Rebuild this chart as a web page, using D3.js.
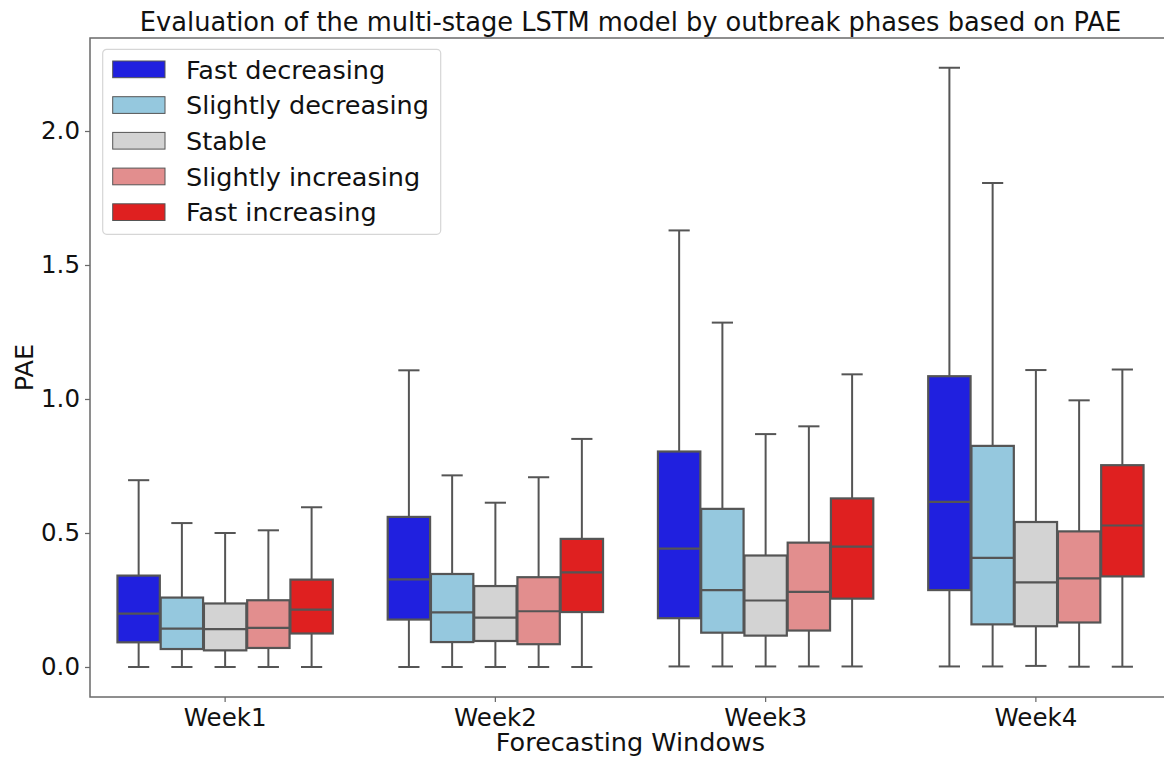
<!DOCTYPE html>
<html>
<head>
<meta charset="utf-8">
<script src="https://cdn.jsdelivr.net/npm/d3@7"></script>
<style>
  html, body { margin: 0; padding: 0; background: #fff; }
  svg { display: block; font-family: "DejaVu Sans", sans-serif; }
</style>
</head>
<body>
<svg id="chart" width="1164" height="757"></svg>
<script>
// ---- Data ----
const categories = ["Week1", "Week2", "Week3", "Week4"];
const phases = ["Fast decreasing", "Slightly decreasing", "Stable", "Slightly increasing", "Fast increasing"];
const yTicks = [0.0, 0.5, 1.0, 1.5, 2.0];

// rows = weeks, columns = phases
const whiskerLow = [
  [0, 0, 0, 0, 0],
  [0, 0, 0, 0, 0],
  [0.002, 0.002, 0.002, 0.002, 0.002],
  [0.002, 0.002, 0.004, 0.001, 0.001]
];
const q1 = [
  [0.092, 0.067, 0.062, 0.071, 0.125],
  [0.177, 0.093, 0.097, 0.085, 0.205],
  [0.182, 0.128, 0.117, 0.136, 0.255],
  [0.287, 0.159, 0.152, 0.166, 0.338]
];
const median = [
  [0.199, 0.143, 0.141, 0.146, 0.214],
  [0.327, 0.204, 0.184, 0.208, 0.353],
  [0.442, 0.287, 0.248, 0.280, 0.449],
  [0.616, 0.407, 0.316, 0.331, 0.528]
];
const q3 = [
  [0.341, 0.259, 0.237, 0.249, 0.326],
  [0.560, 0.347, 0.302, 0.335, 0.478],
  [0.804, 0.590, 0.416, 0.464, 0.629],
  [1.085, 0.825, 0.541, 0.506, 0.753]
];
const whiskerHigh = [
  [0.697, 0.537, 0.500, 0.510, 0.596],
  [1.107, 0.715, 0.613, 0.708, 0.851],
  [1.629, 1.285, 0.869, 0.898, 1.092],
  [2.236, 1.806, 1.108, 0.995, 1.110]
];

// ---- Styles ----
const phaseColors = ["#2020df", "#95c8de", "#d3d3d3", "#e28e8e", "#df2020"];
const lineColor = "#555555";
const spineColor = "#6a6a6a";
const textColor = "#111111";
const tickFont = 24.5;
const labelFont = 25.5;

const svg = d3.select("#chart");
const plot = { left: 90, right: 1171, top: 38, bottom: 697 };

const x = d3.scaleBand().domain(categories).range([plot.left, plot.right]).padding(0);
const groupWidth = x.bandwidth() * 0.8;
const xSub = d3.scaleBand().domain(phases).range([0, groupWidth]).padding(0);
const boxW = xSub.bandwidth() * 0.98;
const y = d3.scaleLinear().domain([-0.112, 2.347]).range([plot.bottom, plot.top]);
const color = d3.scaleOrdinal().domain(phases).range(phaseColors);

// Build records
const records = [];
categories.forEach((c, i) => {
  phases.forEach((p, j) => {
    records.push({
      cat: c, phase: p,
      lo: whiskerLow[i][j], q1: q1[i][j], med: median[i][j], q3: q3[i][j], hi: whiskerHigh[i][j]
    });
  });
});

const cx = d => x(d.cat) + (x.bandwidth() - groupWidth) / 2 + xSub(d.phase) + xSub.bandwidth() / 2;

const boxes = svg.append("g").attr("class", "boxes");
const g = boxes.selectAll("g.box").data(records).join("g").attr("class", "box");

// whiskers
g.append("line")
  .attr("x1", cx).attr("x2", cx)
  .attr("y1", d => y(d.q3)).attr("y2", d => y(d.hi))
  .attr("stroke", lineColor).attr("stroke-width", 2);
g.append("line")
  .attr("x1", cx).attr("x2", cx)
  .attr("y1", d => y(d.q1)).attr("y2", d => y(d.lo))
  .attr("stroke", lineColor).attr("stroke-width", 2);
// caps
g.append("line")
  .attr("x1", d => cx(d) - boxW / 4).attr("x2", d => cx(d) + boxW / 4)
  .attr("y1", d => y(d.hi)).attr("y2", d => y(d.hi))
  .attr("stroke", lineColor).attr("stroke-width", 2);
g.append("line")
  .attr("x1", d => cx(d) - boxW / 4).attr("x2", d => cx(d) + boxW / 4)
  .attr("y1", d => y(d.lo)).attr("y2", d => y(d.lo))
  .attr("stroke", lineColor).attr("stroke-width", 2);
// box
g.append("rect")
  .attr("x", d => cx(d) - boxW / 2)
  .attr("width", boxW)
  .attr("y", d => y(d.q3))
  .attr("height", d => y(d.q1) - y(d.q3))
  .attr("fill", d => color(d.phase))
  .attr("stroke", lineColor).attr("stroke-width", 2.2);
// median
g.append("line")
  .attr("x1", d => cx(d) - boxW / 2).attr("x2", d => cx(d) + boxW / 2)
  .attr("y1", d => y(d.med)).attr("y2", d => y(d.med))
  .attr("stroke", lineColor).attr("stroke-width", 2.2);

// ---- Axes ----
const yAxis = svg.append("g")
  .attr("transform", `translate(${plot.left},0)`)
  .call(d3.axisLeft(y).tickValues(yTicks).tickFormat(d3.format(".1f")).tickSize(5).tickPadding(5));
const xAxis = svg.append("g")
  .attr("transform", `translate(0,${plot.bottom})`)
  .call(d3.axisBottom(x).tickSize(5).tickPadding(7));
[yAxis, xAxis].forEach(a => {
  a.select(".domain").remove();
  a.selectAll(".tick line").attr("stroke", spineColor).attr("stroke-width", 1.25);
  a.selectAll(".tick text").attr("fill", textColor).style("font-size", tickFont + "px")
    .style("font-family", "'DejaVu Sans', sans-serif");
});

// spines
svg.append("rect")
  .attr("x", plot.left).attr("y", plot.top)
  .attr("width", plot.right - plot.left).attr("height", plot.bottom - plot.top)
  .attr("fill", "none").attr("stroke", spineColor).attr("stroke-width", 1.5);

// ---- Labels ----
svg.append("text")
  .attr("x", (plot.left + plot.right) / 2).attr("y", 31)
  .attr("text-anchor", "middle").attr("fill", textColor)
  .style("font-size", "25.7px")
  .text("Evaluation of the multi-stage LSTM model by outbreak phases based on PAE");

svg.append("text")
  .attr("x", (plot.left + plot.right) / 2).attr("y", 751)
  .attr("text-anchor", "middle").attr("fill", textColor)
  .style("font-size", labelFont + "px")
  .text("Forecasting Windows");

svg.append("text")
  .attr("transform", `translate(32.5,${(plot.top + plot.bottom) / 2}) rotate(-90)`)
  .attr("text-anchor", "middle").attr("fill", textColor)
  .style("font-size", labelFont + "px")
  .text("PAE");

// ---- Legend ----
const legend = svg.append("g").attr("transform", "translate(102.7,49.3)");
legend.append("rect")
  .attr("width", 338).attr("height", 185).attr("rx", 4).attr("ry", 4)
  .attr("fill", "#ffffff").attr("fill-opacity", 0.8)
  .attr("stroke", "#d6d6d6").attr("stroke-width", 1.2);
const rowY = d3.scalePoint().domain(phases).range([11.7, 11.7 + 4 * 35.7]);
const items = legend.selectAll("g.item").data(phases).join("g")
  .attr("class", "item")
  .attr("transform", p => `translate(10,${rowY(p)})`);
items.append("rect")
  .attr("width", 52.3).attr("height", 16.7)
  .attr("fill", p => color(p))
  .attr("stroke", "#555555").attr("stroke-width", 1);
items.append("text")
  .attr("x", 73.3).attr("y", 8.35).attr("dy", "0.36em")
  .attr("fill", textColor)
  .style("font-size", labelFont + "px")
  .text(p => p);
</script>
</body>
</html>
